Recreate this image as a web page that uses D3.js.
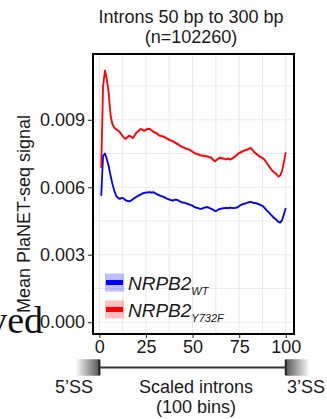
<!DOCTYPE html>
<html>
<head>
<meta charset="utf-8">
<script src="https://cdn.jsdelivr.net/npm/d3@7"></script>
<style>
  html, body { margin: 0; padding: 0; background: #fff; }
  svg { display: block; }
  text { font-family: "Liberation Sans", Arial, sans-serif; fill: #1a1a1a; }
</style>
</head>
<body>
<svg id="chart" width="327" height="419"></svg>
<script>
// Metaprofile of PlaNET-seq signal over scaled introns (bins 1..100)
const bins = d3.range(1, 101);

const wtSignal = [
  0.00562, 0.00740, 0.00750, 0.00725, 0.00695, 0.00652, 0.00615, 0.00585, 0.00562, 0.00553,
  0.00548, 0.00553, 0.00550, 0.00543, 0.00539, 0.00537, 0.00541, 0.00547, 0.00553, 0.00558,
  0.00563, 0.00567, 0.00572, 0.00575, 0.00576, 0.00577, 0.00578, 0.00576, 0.00578, 0.00573,
  0.00568, 0.00565, 0.00561, 0.00559, 0.00555, 0.00550, 0.00547, 0.00544, 0.00541, 0.00543,
  0.00545, 0.00543, 0.00538, 0.00534, 0.00532, 0.00530, 0.00527, 0.00524, 0.00521, 0.00518,
  0.00512, 0.00509, 0.00507, 0.00504, 0.00505, 0.00508, 0.00511, 0.00512, 0.00508, 0.00504,
  0.00500, 0.00494, 0.00496, 0.00502, 0.00504, 0.00506, 0.00507, 0.00508, 0.00507, 0.00509,
  0.00508, 0.00507, 0.00508, 0.00510, 0.00516, 0.00522, 0.00525, 0.00527, 0.00530, 0.00533,
  0.00535, 0.00533, 0.00530, 0.00529, 0.00526, 0.00523, 0.00519, 0.00514, 0.00505, 0.00495,
  0.00487, 0.00478, 0.00469, 0.00462, 0.00455, 0.00446, 0.00443, 0.00453, 0.00480, 0.00508
];

const y732fSignal = [
  0.00686, 0.01050, 0.01119, 0.01080, 0.01020, 0.00920, 0.00880, 0.00865, 0.00858, 0.00852,
  0.00845, 0.00833, 0.00822, 0.00815, 0.00822, 0.00829, 0.00825, 0.00819, 0.00832, 0.00844,
  0.00850, 0.00859, 0.00856, 0.00851, 0.00855, 0.00860, 0.00859, 0.00853, 0.00847, 0.00843,
  0.00838, 0.00831, 0.00828, 0.00826, 0.00822, 0.00818, 0.00813, 0.00809, 0.00806, 0.00802,
  0.00796, 0.00792, 0.00786, 0.00781, 0.00778, 0.00774, 0.00771, 0.00768, 0.00764, 0.00758,
  0.00752, 0.00749, 0.00746, 0.00743, 0.00741, 0.00740, 0.00738, 0.00736, 0.00734, 0.00732,
  0.00722, 0.00716, 0.00722, 0.00729, 0.00731, 0.00728, 0.00726, 0.00725, 0.00727, 0.00724,
  0.00726, 0.00732, 0.00738, 0.00746, 0.00752, 0.00756, 0.00760, 0.00764, 0.00766, 0.00770,
  0.00775, 0.00768, 0.00757, 0.00750, 0.00743, 0.00737, 0.00732, 0.00727, 0.00718, 0.00705,
  0.00693, 0.00682, 0.00671, 0.00665, 0.00658, 0.00648, 0.00652, 0.00672, 0.00712, 0.00755
];

// standard error band half-widths
const wtSE = 0.00005;
const y732fSE = 0.00007;

const xTicks = [0, 25, 50, 75, 100];
const xMinor = [12.5, 37.5, 62.5, 87.5];
const yTicks = [0, 0.003, 0.006, 0.009];
const yMinor = [0.0015, 0.0045, 0.0075, 0.0105];

const titleLines = ["Introns 50 bp to 300 bp", "(n=102260)"];
const yTitle = "Mean PlaNET-seq signal";
const xTitleLines = ["Scaled introns", "(100 bins)"];
const ssLabels = ["5\u2019SS", "3\u2019SS"];

const series = [
  { name: "NRPB2", sub: "WT", values: wtSignal, se: wtSE, color: "#0000ff", band: "rgba(0,0,255,0.25)" },
  { name: "NRPB2", sub: "Y732F", values: y732fSignal, se: y732fSE, color: "#ff0000", band: "rgba(255,0,0,0.25)" }
];

const FONT = "18px";

const svg = d3.select("#chart");
const panel = { left: 92, right: 295, top: 53, bottom: 335 };

const x = d3.scaleLinear().domain([-3.95, 104.95]).range([panel.left, panel.right]);
const y = d3.scaleLinear().domain([-0.00057, 0.01197]).range([panel.bottom, panel.top]);

// neighbouring panel text fragment at the left edge
svg.append("text")
  .attr("x", 43).attr("y", 333)
  .attr("text-anchor", "end")
  .style("font-family", "'Liberation Serif', 'Times New Roman', serif")
  .style("font-size", "38px")
  .style("fill", "#111")
  .text("ved");

// grid
const grid = svg.append("g");
grid.selectAll(".gx").data(xTicks.concat(xMinor)).join("line")
  .attr("x1", d => x(d)).attr("x2", d => x(d))
  .attr("y1", panel.top).attr("y2", panel.bottom)
  .attr("stroke", "#ebebeb").attr("stroke-width", 1.1);
grid.selectAll(".gy").data(yTicks.concat(yMinor)).join("line")
  .attr("y1", d => y(d)).attr("y2", d => y(d))
  .attr("x1", panel.left).attr("x2", panel.right)
  .attr("stroke", "#ebebeb").attr("stroke-width", 1.1);

// bands and lines
const area = d3.area()
  .x((d, i) => x(bins[i]))
  .y0(d => y(d.v - d.se))
  .y1(d => y(d.v + d.se));
const line = d3.line()
  .x((d, i) => x(bins[i]))
  .y(d => y(d));

series.forEach(s => {
  svg.append("path")
    .datum(s.values.map(v => ({ v, se: s.se })))
    .attr("d", area)
    .attr("fill", s.band);
});
series.forEach(s => {
  svg.append("path")
    .datum(s.values)
    .attr("d", line)
    .attr("fill", "none")
    .attr("stroke", s.color)
    .attr("stroke-width", 1.8)
    .attr("stroke-linejoin", "round");
});

// panel border
svg.append("rect")
  .attr("x", panel.left + 1).attr("y", panel.top + 1)
  .attr("width", panel.right - panel.left - 2)
  .attr("height", panel.bottom - panel.top - 2)
  .attr("fill", "none").attr("stroke", "#000").attr("stroke-width", 2);

// axes
const yAxis = svg.append("g")
  .attr("transform", `translate(${panel.left},0)`)
  .call(d3.axisLeft(y).tickValues(yTicks).tickFormat(d3.format(".3f")).tickSize(4).tickPadding(3));
const xAxis = svg.append("g")
  .attr("transform", `translate(0,${panel.bottom})`)
  .call(d3.axisBottom(x).tickValues(xTicks).tickFormat(d3.format("d")).tickSize(3).tickPadding(2));
[yAxis, xAxis].forEach(a => {
  a.select(".domain").remove();
  a.selectAll(".tick line").attr("stroke", "#333").attr("stroke-width", 1.1);
  a.selectAll(".tick text")
    .style("font-family", "'Liberation Sans', Arial, sans-serif")
    .style("font-size", FONT)
    .attr("fill", "#333");
});

// title
svg.append("text")
  .attr("x", 191).attr("y", 23)
  .attr("text-anchor", "middle")
  .style("font-size", FONT)
  .selectAll("tspan").data(titleLines).join("tspan")
  .attr("x", 191).attr("dy", (d, i) => i === 0 ? 0 : 19.5)
  .text(d => d);

// y title
svg.append("text")
  .attr("transform", `translate(30,${(panel.top + panel.bottom) / 2 + 20}) rotate(-90)`)
  .attr("text-anchor", "middle")
  .style("font-size", FONT)
  .text(yTitle);

// legend
const legend = svg.append("g");
series.forEach((s, i) => {
  const cy = 282.5 + i * 27;
  legend.append("rect")
    .attr("x", 105).attr("y", cy - 9).attr("width", 19).attr("height", 18)
    .attr("fill", s.band);
  legend.append("line")
    .attr("x1", 106).attr("x2", 123).attr("y1", cy).attr("y2", cy)
    .attr("stroke", s.color).attr("stroke-width", 5);
  const t = legend.append("text")
    .attr("x", 128).attr("y", cy + 7.5)
    .style("font-style", "italic")
    .style("font-size", "19px");
  t.append("tspan").text(s.name);
  t.append("tspan").attr("dy", 5).style("font-size", "11px").text(s.sub);
});

// intron diagram below the axis
const defs = svg.append("defs");
const gradL = defs.append("linearGradient").attr("id", "exonL").attr("x1", "0").attr("x2", "1");
gradL.append("stop").attr("offset", "0").attr("stop-color", "#ffffff");
gradL.append("stop").attr("offset", "1").attr("stop-color", "#555555");
const gradR = defs.append("linearGradient").attr("id", "exonR").attr("x1", "0").attr("x2", "1");
gradR.append("stop").attr("offset", "0").attr("stop-color", "#555555");
gradR.append("stop").attr("offset", "1").attr("stop-color", "#ffffff");

const diagY = 367.5;
const exonH = 15;
const exonW = 24;
const d0 = x(0), d1 = x(100);
svg.append("rect")
  .attr("x", d0 - exonW).attr("y", diagY - exonH / 2).attr("width", exonW).attr("height", exonH)
  .attr("fill", "url(#exonL)").attr("stroke", "url(#exonL)").attr("stroke-width", 1.5);
svg.append("rect")
  .attr("x", d1).attr("y", diagY - exonH / 2).attr("width", exonW).attr("height", exonH)
  .attr("fill", "url(#exonR)").attr("stroke", "url(#exonR)").attr("stroke-width", 1.5);
svg.append("line")
  .attr("x1", d0).attr("x2", d0).attr("y1", diagY - exonH / 2).attr("y2", diagY + exonH / 2)
  .attr("stroke", "#222").attr("stroke-width", 2);
svg.append("line")
  .attr("x1", d1).attr("x2", d1).attr("y1", diagY - exonH / 2).attr("y2", diagY + exonH / 2)
  .attr("stroke", "#222").attr("stroke-width", 2);
svg.append("line")
  .attr("x1", d0).attr("x2", d1).attr("y1", diagY).attr("y2", diagY)
  .attr("stroke", "#333").attr("stroke-width", 2);

svg.append("text").attr("x", 74).attr("y", 393).attr("text-anchor", "middle")
  .style("font-size", FONT).attr("fill", "#333").text(ssLabels[0]);
svg.append("text").attr("x", 306).attr("y", 393).attr("text-anchor", "middle")
  .style("font-size", FONT).attr("fill", "#333").text(ssLabels[1]);
svg.append("text")
  .attr("x", 196).attr("y", 393)
  .attr("text-anchor", "middle")
  .style("font-size", FONT)
  .attr("fill", "#333")
  .selectAll("tspan").data(xTitleLines).join("tspan")
  .attr("x", 196).attr("dy", (d, i) => i === 0 ? 0 : 19.5)
  .text(d => d);
</script>
</body>
</html>
